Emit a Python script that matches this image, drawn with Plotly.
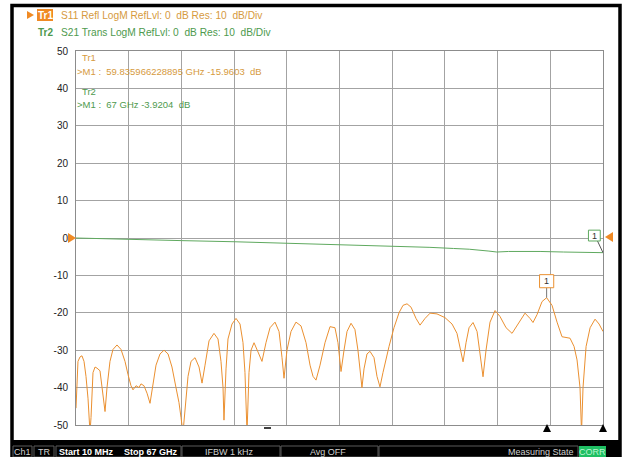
import plotly.graph_objects as go

# ---------------- data ----------------
freq_s11 = [0.01, 0.14, 0.26, 0.52, 0.77, 1.03, 1.28, 1.54, 1.79, 1.92, 2.17, 2.43, 2.68, 3.06, 3.32, 3.70,
            3.95, 4.33, 4.71, 5.22, 5.73, 6.24, 6.62, 7.00, 7.26, 7.64, 8.02, 8.27, 8.65, 9.04, 9.42,
            9.80, 10.18, 10.69, 11.20, 11.71, 12.21, 12.72, 13.10, 13.36, 13.61, 13.87, 14.25, 14.63,
            15.14, 15.65, 16.03, 16.41, 16.92, 17.55, 18.06, 18.44, 18.70, 18.82, 19.08, 19.33, 19.84,
            20.35, 20.86, 21.24, 21.49, 21.75, 22.00, 22.26, 22.64, 23.15, 23.65, 24.16, 24.67, 25.31,
            25.82, 26.20, 26.45, 26.83, 27.34, 27.97, 28.61, 29.25, 29.76, 30.14, 30.52, 31.03, 31.66,
            32.30, 32.93, 33.31, 33.70, 34.08, 34.46, 34.97, 35.47, 35.85, 36.11, 36.36, 36.62, 37.00,
            37.38, 37.89, 38.27, 38.65, 39.03, 39.42, 39.80, 40.43, 41.07, 41.58, 42.09, 42.60, 43.23,
            43.74, 44.38, 45.02, 45.90, 46.92, 47.81, 48.44, 48.82, 49.21, 49.59, 49.97, 50.48, 50.99,
            51.37, 51.75, 52.13, 52.64, 53.28, 53.91, 54.68, 55.44, 56.20, 57.09, 57.72, 58.10, 58.61,
            59.25, 59.836, 60.52, 61.16, 61.79, 62.81, 63.32, 63.70, 64.08, 64.27, 64.46, 64.85, 65.36,
            65.99, 66.50, 67.00]
s11_db = [-45.5, -40, -33, -31.8, -31.5, -33, -37, -43, -52, -48, -36, -34.5, -34.8, -35.5, -40, -46.4,
          -40, -33, -29.8, -28.6, -29.8, -33, -36.5, -39.5, -40.6, -39.5, -40, -39, -39.5, -41.5, -44.2,
          -39, -34, -31, -30, -31, -34.5, -40, -44, -48, -52, -46, -37, -33,
          -32, -34.5, -38.8, -34, -27.5, -25.5, -27, -33, -40, -48.7, -35, -27, -23,
          -21.5, -23, -28, -36, -52, -36, -30, -28, -30.5, -33, -28, -24, -22.5,
          -25, -32, -37.5, -30, -25, -22.5, -23.5, -28, -34, -37, -38, -34, -28,
          -23.7, -24, -28, -35.7, -30, -25, -22.8, -24.5, -30, -36, -40, -35, -31,
          -30.3, -32, -37, -39.8, -36, -32, -29, -24, -20, -18, -17.6, -18.5, -21.5,
          -23.3, -21.5, -20.1, -20.3, -21.3, -23, -25.5, -29, -33.1, -28, -24, -22.6, -25,
          -31, -37.1, -30, -22.5, -19.4, -21, -24, -25.5, -23, -20.1, -21.5, -22.6, -20.5,
          -17, -15.96, -18, -22.5, -26.4, -26.8, -29, -32.6, -40, -52, -40, -29, -24,
          -21.7, -23, -25]

freq_s21 = [0.01, 3.0, 6.7, 10.0, 13.4, 20.1, 26.8, 33.5, 40.2, 45.0, 48.0, 50.0, 52.5, 53.5, 55.0,
            57.0, 59.0, 62.0, 65.0, 67.0]
s21_db = [0.0, -0.2, -0.35, -0.5, -0.7, -1.0, -1.35, -1.7, -2.1, -2.5, -2.8, -3.0, -3.5, -3.75, -3.6,
          -3.55, -3.6, -3.75, -3.85, -3.9204]

y_ticks = [50, 40, 30, 20, 10, 0, -10, -20, -30, -40, -50]
marker1_f, marker1_db = 59.835966228895, -15.9603
marker2_f, marker2_db = 67.0, -3.9204

# ---------------- geometry helpers ----------------
W, H = 628, 457
L, R, T, B = 76, 603, 51, 425


def xp(px):
    return (px - L) / (R - L)


def yp(py):
    return (B - py) / (B - T)


ORANGE = "#eb9030"
ORANGE_TXT = "#d69a3e"
GREEN = "#5fa95f"
GREEN_TXT = "#4e9a4e"
GRID = "#a3a3a3"
FONT = "Liberation Sans"

fig = go.Figure()
fig.add_trace(go.Scatter(x=freq_s21, y=s21_db, mode="lines",
                         line=dict(color=GREEN, width=1), hoverinfo="skip"))
fig.add_trace(go.Scatter(x=freq_s11, y=s11_db, mode="lines",
                         line=dict(color=ORANGE, width=1), hoverinfo="skip"))

shapes = []
annotations = []


def rect(x0, y0, x1, y1, line=None, fill=None, lw=1):
    shapes.append(dict(type="rect", xref="paper", yref="paper",
                       x0=xp(x0), x1=xp(x1), y0=yp(y1), y1=yp(y0),
                       line=dict(color=line or "rgba(0,0,0,0)", width=lw if line else 0),
                       fillcolor=fill or "rgba(0,0,0,0)", layer="above"))


def seg(x0, y0, x1, y1, color, lw=1):
    shapes.append(dict(type="line", xref="paper", yref="paper",
                       x0=xp(x0), x1=xp(x1), y0=yp(y0), y1=yp(y1),
                       line=dict(color=color, width=lw), layer="above"))


def tri(pts, color):
    path = "M " + " L ".join(f"{xp(a)},{yp(b)}" for a, b in pts) + " Z"
    shapes.append(dict(type="path", xref="paper", yref="paper", path=path,
                       fillcolor=color, line=dict(color=color, width=0), layer="above"))


def text(px, py, s, color, size=9.5, anchor="left", bold=False, family=FONT):
    annotations.append(dict(xref="paper", yref="paper", x=xp(px), y=yp(py), text=(f"<b>{s}</b>" if bold else s),
                            showarrow=False, xanchor=anchor, yanchor="middle",
                            font=dict(color=color, size=size, family=family)))


# outer black frame
rect(12, 5.5, 620, 457, line="black", lw=3.5)
# status bar
rect(11, 440, 621, 457, fill="black")
for x0, x1 in [(13, 32), (34, 54), (56, 181), (182, 280), (281, 378), (379, 578)]:
    rect(x0, 446, x1, 457, line="#5a5a5a", fill="black", lw=1)
rect(579, 446, 606, 457, fill="#1fbf63")
text(22, 451.5, "Ch1", "#d0d0d0", 9, "center")
text(44, 451.5, "TR", "#d0d0d0", 9, "center")
text(57, 451.5, "Start 10 MHz", "white", 9, "left", bold=True)
text(122, 451.5, "Stop 67 GHz", "white", 9, "left", bold=True)
text(229, 451.5, "IFBW 1 kHz", "#d0d0d0", 9, "center")
text(328, 451.5, "Avg OFF", "#d0d0d0", 9, "center")
text(576, 451.5, "Measuring State", "#d0d0d0", 9, "right")
text(592, 451.5, "CORR", "#b9f5cf", 9, "center")

# header
tri([(27, 11), (34, 15), (27, 19)], "#f08a24")
rect(37, 9, 53, 21, fill="#f08a24")
text(45, 15, "Tr1", "white", 10, "center", bold=True)
text(59, 15, "S11 Refl LogM RefLvl: 0  dB Res: 10  dB/Div", ORANGE_TXT, 10.2)
text(45, 32, "Tr2", GREEN_TXT, 10, "center", bold=True)
text(59, 32, "S21 Trans LogM RefLvl: 0  dB Res: 10  dB/Div", GREEN_TXT, 10.2)

# marker read-outs
text(80, 58, "Tr1", ORANGE_TXT)
text(75, 71, f">M1 :  {marker1_f:.12f} GHz {marker1_db:.4f}  dB", ORANGE_TXT)
text(80, 91, "Tr2", GREEN_TXT)
text(75, 104, f">M1 :  {marker2_f:.0f} GHz {marker2_db:.4f}  dB", GREEN_TXT)

# reference triangles
tri([(68, 233), (76, 238), (68, 243)], "#f08a24")
tri([(613, 232), (605, 237), (613, 242)], "#f08a24")

# stimulus marker triangles and small dash on the x axis
tri([(547, 424), (543, 432), (551, 432)], "black")
tri([(603, 424), (599, 432), (607, 432)], "black")
seg(264, 428, 271, 428, "black", 1.5)

fig.update_layout(shapes=shapes, annotations=annotations)

# marker flags placed in data coordinates
fig.add_shape(type="line", xref="x", yref="y", x0=marker1_f, x1=marker1_f, y0=marker1_db, y1=-13.3,
              line=dict(color="#777777", width=1))
fig.add_shape(type="rect", xref="x", yref="y", x0=marker1_f - 0.9, x1=marker1_f + 0.9, y0=-13.3, y1=-9.8,
              line=dict(color=ORANGE, width=1), fillcolor="white")
fig.add_annotation(xref="x", yref="y", x=marker1_f, y=-11.55, text="1", showarrow=False,
                   font=dict(size=9, color="#333", family=FONT))
fig.add_shape(type="line", xref="x", yref="y", x0=marker2_f, x1=marker2_f - 0.7, y0=marker2_db, y1=-0.8,
              line=dict(color="#555555", width=1))
fig.add_shape(type="rect", xref="x", yref="y", x0=marker2_f - 1.85, x1=marker2_f - 0.35, y0=-0.8, y1=2.1,
              line=dict(color=GREEN, width=1), fillcolor="white")
fig.add_annotation(xref="x", yref="y", x=marker2_f - 1.1, y=0.65, text="1", showarrow=False,
                   font=dict(size=9, color="#333", family=FONT))

fig.update_layout(
    width=W, height=H,
    margin=dict(l=L, r=W - R, t=T, b=H - B, pad=0),
    paper_bgcolor="white", plot_bgcolor="white",
    showlegend=False,
    xaxis=dict(range=[0.01, 67.0], tick0=0.01, dtick=6.699, showticklabels=False,
               showgrid=True, gridcolor=GRID, gridwidth=1, zeroline=False,
               showline=True, linecolor="#8c8c8c", linewidth=1, mirror=True, ticks=""),
    yaxis=dict(range=[-50, 50], tickvals=y_ticks, ticktext=[str(v) for v in y_ticks],
               showgrid=True, gridcolor=GRID, gridwidth=1, zeroline=False,
               showline=True, linecolor="#8c8c8c", linewidth=1, mirror=True, ticks="",
               ticklabelstandoff=5, tickfont=dict(size=10, color="#222", family=FONT)),
)

fig.write_html("out.html", config={"displayModeBar": False},
               post_script="document.body.style.margin='0';document.body.style.overflow='hidden';")
